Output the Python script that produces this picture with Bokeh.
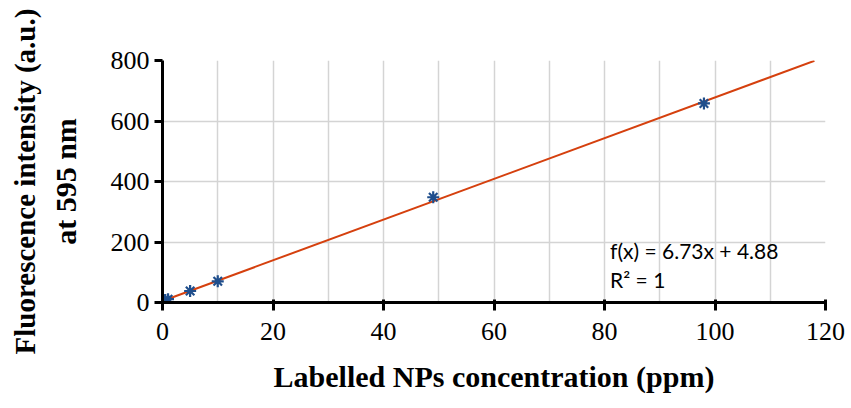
from bokeh.plotting import figure
from bokeh.models import Range1d, SingleIntervalTicker, Label, FixedTicker, Title
from bokeh.embed import file_html
from bokeh.resources import INLINE

conc = [0, 0.5, 1, 5, 10, 49, 98]
intensity = [5, 8, 11, 38, 70, 348, 658]
slope = 6.73
intercept = 4.88
fit_x = [0, 118]
fit_y = [slope * v + intercept for v in fit_x]

x_ticks = [0, 20, 40, 60, 80, 100, 120]
y_ticks = [0, 200, 400, 600, 800]
y_title_lines = ["Fluorescence intensity (a.u.)", "at 595 nm"]

p = figure(width=851, height=408, output_backend="svg", toolbar_location=None,
           x_range=Range1d(0, 120), y_range=Range1d(0, 800),
           min_border_left=162, min_border_right=26, min_border_top=60, min_border_bottom=106)
p.outline_line_color = None
p.background_fill_color = "white"

p.xaxis.ticker = FixedTicker(ticks=x_ticks)
p.yaxis.ticker = FixedTicker(ticks=y_ticks)
p.xgrid.ticker = SingleIntervalTicker(interval=10)
p.ygrid.ticker = FixedTicker(ticks=y_ticks)
for g in (p.xgrid, p.ygrid):
    g.grid_line_color = "#d4d4d4"
    g.grid_line_width = 1.5

for ax in (p.xaxis, p.yaxis):
    ax.axis_line_width = 3
    ax.axis_line_color = "black"
    ax.major_tick_line_width = 3
    ax.major_tick_line_color = "black"
    ax.minor_tick_line_color = None
    ax.major_label_text_font = "Liberation Serif"
    ax.major_label_text_font_size = "26px"
    ax.major_label_text_color = "black"
    ax.axis_label_text_font = "Liberation Serif"
    ax.axis_label_text_font_style = "bold"
    ax.axis_label_text_font_size = "30px"
    ax.axis_label_text_color = "black"

p.xaxis.major_tick_out = 8
p.xaxis.major_tick_in = 3
p.yaxis.major_tick_out = 8
p.yaxis.major_tick_in = 0
p.xaxis.major_label_standoff = 12
p.yaxis.major_label_standoff = 5

p.xaxis.axis_label = "Labelled NPs concentration (ppm)"
p.xaxis.axis_label_standoff = 17

p.yaxis.axis_label = y_title_lines[1]
p.yaxis.axis_label_standoff = 26
p.add_layout(Title(text=y_title_lines[0], align="center",
                   text_font="Liberation Serif", text_font_style="bold",
                   text_font_size="29px", text_color="black"), "left")

p.line(fit_x, fit_y, line_color="#D5400E", line_width=2)
p.scatter(conc, intensity, marker="asterisk", size=12, line_color="#1F4E8C", line_width=2.2)

for txt, yy in (("f(x) = 6.73x + 4.88", 172), ("R² = 1", 76)):
    p.add_layout(Label(x=81, y=yy, text=txt, text_font="Lato", text_font_size="21px",
                       text_color="black", text_baseline="middle"))

open("out.html", "w").write(file_html(p, INLINE))
